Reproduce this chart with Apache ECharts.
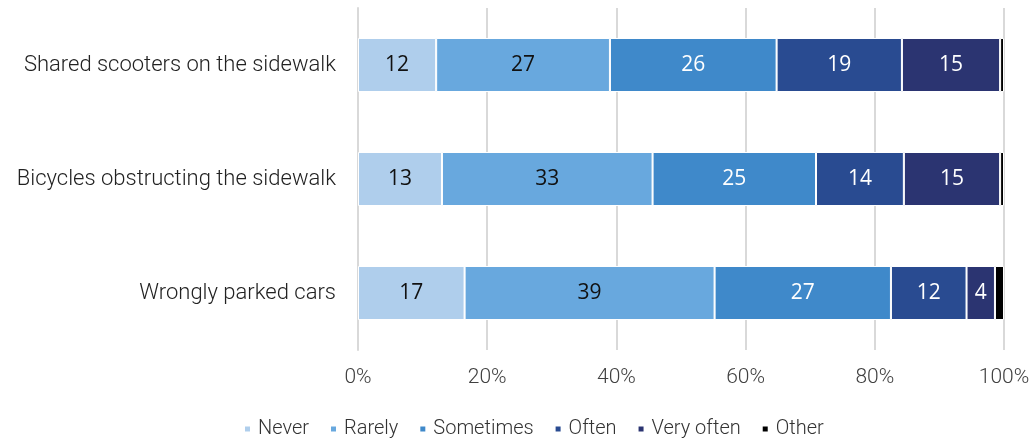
<!DOCTYPE html>
<html>
<head>
<meta charset="utf-8">
<script src="https://cdn.jsdelivr.net/npm/echarts@6/dist/echarts.min.js"></script>
<style>html,body{margin:0;padding:0;background:#fff}#c{width:1036px;height:440px}</style>
</head>
<body>
<div id="c"></div>
<script>
const categories = ["Shared scooters on the sidewalk", "Bicycles obstructing the sidewalk", "Wrongly parked cars"];
const seriesNames = ["Never", "Rarely", "Sometimes", "Often", "Very often", "Other"];
const never = [12.1, 13.0, 16.5];
const rarely = [26.9, 32.6, 38.7];
const sometimes = [25.8, 25.3, 27.3];
const often = [19.4, 13.6, 11.7];
const veryOften = [15.2, 14.9, 4.4];
const other = [0.6, 0.6, 1.4];
const tickLabels = ["0%", "20%", "40%", "60%", "80%", "100%"];

const colors = ["#afceec", "#68a8de", "#3f89ca", "#294b91", "#2b3471", "#000000"];
const labelColors = ["#111", "#111", "#fff", "#fff", "#fff", "#fff"];
const values = [never, rarely, sometimes, often, veryOften, other];

const chart = echarts.init(document.getElementById('c'), null, {renderer: 'canvas'});
const series = seriesNames.map((name, i) => ({
  name: name,
  type: 'bar',
  stack: 'total',
  barWidth: 54,
  data: values[i].slice().reverse(),
  itemStyle: {color: colors[i], borderColor: '#fff', borderWidth: 1},
  label: {
    show: i !== 5,
    position: 'inside',
    color: labelColors[i],
    fontFamily: 'Open Sans',
    fontSize: 21,
    formatter: p => Math.round(p.value)
  }
}));

chart.setOption({
  animation: false,
  grid: {left: 358, right: 32, top: 8, bottom: 90, containLabel: false},
  xAxis: {
    type: 'value', min: 0, max: 100, interval: 20,
    axisLine: {show: false}, axisTick: {show: false},
    splitLine: {show: true, lineStyle: {color: '#d9d9d9', width: 2}},
    axisLabel: {
      color: '#404040', fontFamily: 'Roboto', fontWeight: 300, fontSize: 21, margin: 17,
      formatter: v => tickLabels[Math.round(v / 20)]
    }
  },
  yAxis: {
    type: 'category', data: categories.slice().reverse(),
    axisLine: {show: true, lineStyle: {color: '#d9d9d9', width: 2}},
    axisTick: {show: false},
    axisLabel: {color: '#222', fontFamily: 'Roboto', fontWeight: 300, fontSize: 22, margin: 22}
  },
  legend: {
    data: seriesNames,
    left: 243, top: 419, padding: 0,
    icon: 'rect', itemWidth: 7, itemHeight: 7, itemGap: 20,
    textStyle: {color: '#333', fontFamily: 'Roboto', fontWeight: 300, fontSize: 20, padding: [0, 0, 0, 2]}
  },
  series: series
});
</script>
</body>
</html>
